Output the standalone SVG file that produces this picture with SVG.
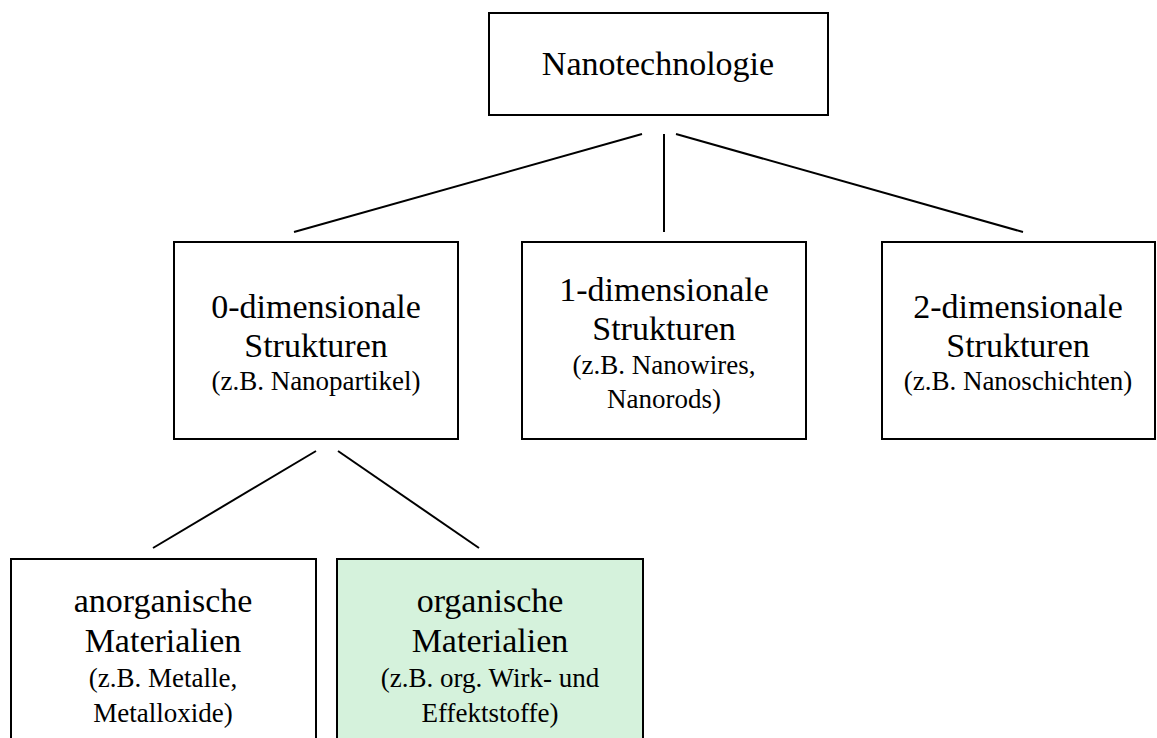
<svg xmlns="http://www.w3.org/2000/svg" width="1157" height="738" viewBox="0 0 1157 738">
<style>
.box{fill:#ffffff;stroke:#000;stroke-width:2}
.green{fill:#d5f2dc}
.t{font-family:"Liberation Serif","Times New Roman",serif;fill:#000;text-anchor:middle}
.big{font-size:34px}
.small{font-size:27px}
.c{stroke:#000;stroke-width:2;fill:none}
</style>
<rect width="1157" height="738" fill="#ffffff"/>
<g id="connectors">
<line class="c" x1="642" y1="134" x2="294" y2="232"/>
<line class="c" x1="664" y1="134" x2="664" y2="232"/>
<line class="c" x1="676" y1="134" x2="1023" y2="232"/>
<line class="c" x1="316" y1="451" x2="153" y2="548"/>
<line class="c" x1="338" y1="451" x2="479" y2="548"/>
</g>
<g id="n-nano">
<rect class="box" x="489" y="13" width="339" height="102"/>
<text class="t big" x="658" y="75">Nanotechnologie</text>
</g>
<g id="n-0d">
<rect class="box" x="174" y="242" width="284" height="197"/>
<text class="t big" x="316" y="318">0-dimensionale</text>
<text class="t big" x="316" y="357">Strukturen</text>
<text class="t small" x="316" y="390">(z.B. Nanopartikel)</text>
</g>
<g id="n-1d">
<rect class="box" x="522" y="242" width="284" height="197"/>
<text class="t big" x="664" y="301">1-dimensionale</text>
<text class="t big" x="664" y="340">Strukturen</text>
<text class="t small" x="664" y="374">(z.B. Nanowires,</text>
<text class="t small" x="664" y="408">Nanorods)</text>
</g>
<g id="n-2d">
<rect class="box" x="882" y="242" width="273" height="197"/>
<text class="t big" x="1018" y="318">2-dimensionale</text>
<text class="t big" x="1018" y="357">Strukturen</text>
<text class="t small" x="1018" y="390">(z.B. Nanoschichten)</text>
</g>
<g id="n-anorg">
<rect class="box" x="11" y="559" width="305" height="200"/>
<text class="t big" x="163" y="612">anorganische</text>
<text class="t big" x="163" y="652">Materialien</text>
<text class="t small" x="163" y="687">(z.B. Metalle,</text>
<text class="t small" x="163" y="722">Metalloxide)</text>
</g>
<g id="n-org">
<rect class="box green" x="337" y="559" width="306" height="200"/>
<text class="t big" x="490" y="612">organische</text>
<text class="t big" x="490" y="652">Materialien</text>
<text class="t small" x="490" y="687">(z.B. org. Wirk- und</text>
<text class="t small" x="490" y="722">Effektstoffe)</text>
</g>
</svg>
